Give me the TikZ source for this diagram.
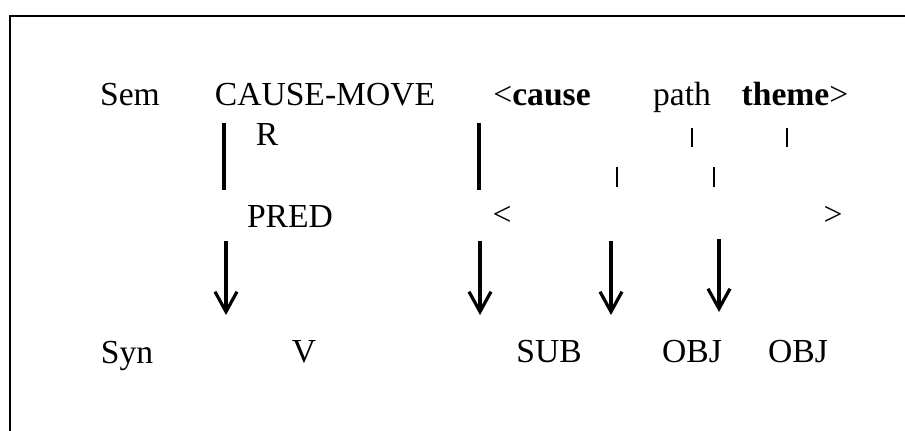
\documentclass[tikz,border=0pt]{standalone}
\usepackage{fontspec}
\setmainfont{Liberation Serif}
\usetikzlibrary{arrows.meta}
\begin{document}
\begin{tikzpicture}[x=0.5pt,y=-0.5pt,
    lbl/.style={anchor=base,inner sep=0pt,font=\fontsize{16.8}{20}\selectfont},
    bar/.style={line width=2pt},
    tick/.style={line width=1.3pt},
    map/.style={line width=1.6pt,-{Straight Barb[length=10pt,width=11pt]}}]
                \useasboundingbox (0,0) rectangle (905,430);
                \draw[line width=1pt] (10,16) rectangle (940,460);

                \node[lbl] (sem) at (130,105) {Sem};
                \node[lbl] (cm) at (325,105) {CAUSE-MOVE};
                \node[lbl] (cause) at (542,105) {<\textbf{cause}};
                \node[lbl] (path) at (682,105) {path};
                \node[lbl] (theme) at (795,105) {\textbf{theme}>};
                \node[lbl] (r) at (267,145) {R};
                \node[lbl] (pred) at (290,227) {PRED};
                \node[lbl] (lt) at (502,225) {<};
                \node[lbl] (gt) at (833,225) {>};
                \node[lbl] (syn) at (127,363) {Syn};
                \node[lbl] (v) at (304,362) {V};
                \node[lbl] (sub) at (549,362) {SUB};
                \node[lbl] (obj1) at (692,362) {OBJ};
                \node[lbl] (obj2) at (798,362) {OBJ};

                \coordinate (b1a) at (224,123);
                \coordinate (b1b) at (224,190);
                \coordinate (b2a) at (479,123);
                \coordinate (b2b) at (479,190);
                \coordinate (t1a) at (692,128);
                \coordinate (t1b) at (692,147);
                \coordinate (t2a) at (787,128);
                \coordinate (t2b) at (787,147);
                \coordinate (t3a) at (617,167);
                \coordinate (t3b) at (617,187);
                \coordinate (t4a) at (714,167);
                \coordinate (t4b) at (714,187);

                \coordinate (m1a) at (226,241);
                \coordinate (m1b) at (226,315);
                \coordinate (m2a) at (480,241);
                \coordinate (m2b) at (480,315);
                \coordinate (m3a) at (611,241);
                \coordinate (m3b) at (611,315);
                \coordinate (m4a) at (719,239);
                \coordinate (m4b) at (719,312);

                \draw[bar] (b1a) -- (b1b);
                \draw[bar] (b2a) -- (b2b);

                \draw[tick] (t1a) -- (t1b);
                \draw[tick] (t2a) -- (t2b);
                \draw[tick] (t3a) -- (t3b);
                \draw[tick] (t4a) -- (t4b);

                \draw[map] (m1a) -- (m1b);
                \draw[map] (m2a) -- (m2b);
                \draw[map] (m3a) -- (m3b);
                \draw[map] (m4a) -- (m4b);

            \end{tikzpicture}
\end{document}
